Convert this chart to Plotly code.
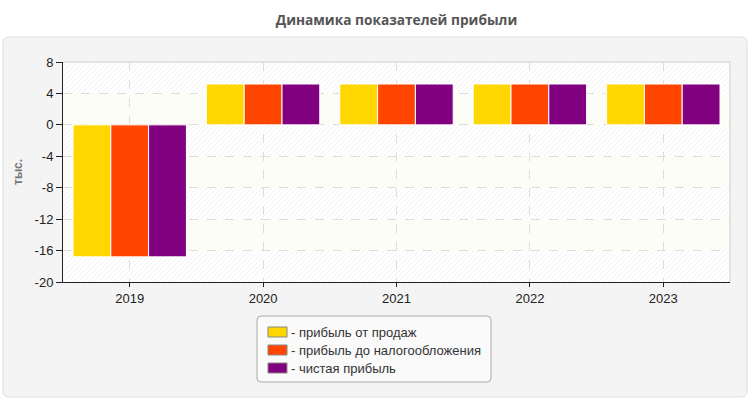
import plotly.graph_objects as go

years = ["2019", "2020", "2021", "2022", "2023"]
sales_profit = [-16.8, 5.2, 5.2, 5.2, 5.2]
pretax_profit = [-16.8, 5.2, 5.2, 5.2, 5.2]
net_profit = [-16.8, 5.2, 5.2, 5.2, 5.2]
series_names = ["- прибыль от продаж", "- прибыль до налогообложения", "- чистая прибыль"]
colors = ["#FFD700", "#FF4500", "#800080"]
y_ticks = [8, 4, 0, -4, -8, -12, -16, -20]
y_tick_labels = ["8", "4", "0", "-4", "-8", "-12", "-16", "-20"]

W, H = 750, 400
L, R, T, B = 63, 20, 62, 118
pw, ph = W - L - R, H - T - B


def px_x(p):
    return (p - L) / pw


def px_y(p):
    return (H - B - p) / ph


fig = go.Figure()
for name, vals, c in zip(series_names, [sales_profit, pretax_profit, net_profit], colors):
    fig.add_trace(go.Bar(
        x=years, y=vals, name=name,
        marker=dict(color=c, line=dict(color="white", width=1)),
        hoverinfo="skip",
    ))


def rounded(x0p, x1p, y0p, y1p, r):
    x0, x1, y0, y1 = px_x(x0p), px_x(x1p), px_y(y0p), px_y(y1p)
    rx, ry = r / pw, r / ph
    return (f"M {x0+rx},{y1} L {x1-rx},{y1} Q {x1},{y1} {x1},{y1-ry} "
            f"L {x1},{y0+ry} Q {x1},{y0} {x1-rx},{y0} L {x0+rx},{y0} "
            f"Q {x0},{y0} {x0},{y0+ry} L {x0},{y1-ry} Q {x0},{y1} {x0+rx},{y1} Z")


# diagonal hatch of the plot background
segs = []
c = -ph
while c < pw:
    xa, xb = max(0, c), min(pw, c + ph)
    segs.append(f"M {xa/pw},{(xa-c)/ph} L {xb/pw},{(xb-c)/ph}")
    c += 5
hatch = " ".join(segs)

shapes = [
    dict(type="path", xref="paper", yref="paper", path=rounded(3, 747, 397, 37, 6),
         fillcolor="#f4f4f4", line=dict(color="#dedede", width=1), layer="below"),
    dict(type="rect", xref="paper", yref="paper", x0=0, x1=1, y0=0, y1=1,
         fillcolor="#ffffff", line=dict(width=0), layer="below"),
    dict(type="path", xref="paper", yref="paper", path=hatch,
         line=dict(color="#f1f1f1", width=1), layer="below"),
]
# alternating cream bands between grid lines
for i in range(1, len(y_ticks) - 1, 2):
    shapes.append(dict(type="rect", xref="paper", yref="y", x0=0, x1=1,
                       y0=y_ticks[i + 1], y1=y_ticks[i],
                       fillcolor="#fdfdf7", line=dict(width=0), layer="below"))
shapes += [
    dict(type="line", xref="paper", yref="paper", x0=0, x1=1, y0=1, y1=1,
         line=dict(color="#dddddd", width=1.5)),
    dict(type="line", xref="paper", yref="paper", x0=1, x1=1, y0=0, y1=1,
         line=dict(color="#dddddd", width=1.5)),
    # legend box
    dict(type="path", xref="paper", yref="paper", path=rounded(257, 491, 382, 316, 4),
         fillcolor="#fafafa", line=dict(color="#aaaaaa", width=1)),
]

annotations = [
    dict(text="<b>тыс.</b>", xref="paper", yref="paper", x=px_x(18), y=px_y(172),
         xanchor="center", yanchor="middle", textangle=-90, showarrow=False,
         font=dict(size=12, color="#777", family="Liberation Sans, Arial, sans-serif")),
]
row_y = [332, 350, 368]
for name, col, yy in zip(series_names, colors, row_y):
    shapes.append(dict(type="rect", xref="paper", yref="paper",
                       x0=px_x(268), x1=px_x(287), y0=px_y(yy + 5), y1=px_y(yy - 5),
                       fillcolor=col, line=dict(color="#888888", width=1)))
    annotations.append(dict(text=name, xref="paper", yref="paper",
                            x=px_x(289), y=px_y(yy), xanchor="left", yanchor="middle",
                            showarrow=False,
                            font=dict(size=13, color="#333",
                                      family="Liberation Sans, Arial, sans-serif")))

fig.update_layout(
    width=W, height=H,
    margin=dict(l=L, r=R, t=T, b=B, autoexpand=False),
    paper_bgcolor="white",
    plot_bgcolor="rgba(0,0,0,0)",
    font=dict(family="Liberation Sans, Arial, sans-serif", size=13, color="#222"),
    title=dict(text="<b>Динамика показателей прибыли</b>", x=0.5, xref="paper",
               xanchor="center", y=1 - 20 / H, yanchor="middle",
               font=dict(family="Open Sans, sans-serif", size=13.7, color="#555")),
    barmode="group",
    bargap=0.15,
    bargroupgap=0,
    shapes=shapes,
    annotations=annotations,
    showlegend=False,
    hovermode=False,
    xaxis=dict(
        showline=True, linecolor="#222", linewidth=1,
        showgrid=True, gridcolor="#dddddd", griddash="dash",
        ticks="outside", ticklen=4, tickcolor="#222",
        tickfont=dict(size=13, color="#222"), automargin=False,
    ),
    yaxis=dict(
        range=[-20, 8], tickvals=y_ticks, ticktext=y_tick_labels,
        showline=True, linecolor="#222", linewidth=1,
        ticks="outside", ticklen=6, tickcolor="#222",
        showgrid=True, gridcolor="#dddddd", griddash="dash",
        zeroline=False, automargin=False,
        tickfont=dict(size=13, color="#222"),
    ),
)

fig.write_html("out.html", config={"displayModeBar": False},
               post_script="document.body.style.margin='0';")
